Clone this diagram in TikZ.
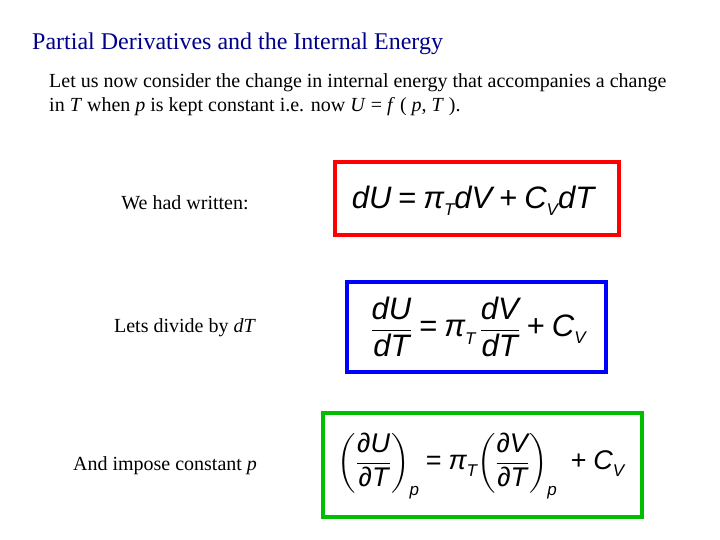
\documentclass[tikz,border=0pt]{standalone}
\usepackage{amsmath}
\usepackage{fontspec}
\setmainfont{Liberation Serif}
\newfontfamily\eqf{Liberation Sans}
\newcommand{\ev}[1]{\text{\eqf\itshape #1}}
\newcommand{\er}[1]{\text{\eqf #1}}
\newcommand{\sbs}[2][-7pt]{\raisebox{#1}{\fontsize{17}{18}\selectfont\eqf\itshape #2}}
\definecolor{titleblue}{RGB}{0,0,140}
\begin{document}
\begin{tikzpicture}[x=1pt,y=-1pt,
  body/.style={font=\fontsize{20}{23}\selectfont,anchor=west,inner sep=0},
  eqbox/.style={line width=4pt,inner sep=0},
  eq/.style={font=\fontsize{31}{36}\selectfont,inner sep=0}]
\useasboundingbox (0,0) rectangle (720,540);
\node[anchor=west,inner sep=0,text=titleblue,font=\fontsize{24}{28}\selectfont] (title) at (32,44) {Partial Derivatives and the Internal Energy};
\node[body] (l1) at (49,83) {Let us now consider the change in internal energy that accompanies a change};
\node[body] (l2) at (49,107) {in \textit{T} when \textit{p} is kept constant i.e. now \textit{U} = \textit{f} ( \textit{p}, \textit{T} ).};
\node[body,anchor=center] (t1) at (185,203) {We had written:};
\node[body,anchor=center] (t2) at (185,328) {Lets divide by \textit{d}\textit{T}};
\node[body,anchor=center] (t3) at (165,466) {And impose constant \textit{p}};
\draw[eqbox,red] (335,162) rectangle (619,235);
\draw[eqbox,blue] (347,282) rectangle (606,372);
\draw[eqbox,green!75!black] (323,413) rectangle (642,517);
\node[eq] (e1) at (473,201) {$\ev{dU}\;\er{=}\;\ev{π}\sbs{T}\ev{dV}\;\er{+}\;\ev{C}\sbs{V}\ev{dT}$};
\node[eq] (e2) at (478,327) {$\dfrac{\ev{dU}}{\ev{dT}}\;\er{=}\;\ev{π}\sbs[-8pt]{T}\,\dfrac{\ev{dV}}{\ev{dT}}\;\er{+}\;\ev{C}\sbs{V}$};
\node[eq,font=\fontsize{27}{32}\selectfont] (e3) at (481,466) {$\left(\dfrac{\er{∂}\ev{U}}{\er{∂}\ev{T}}\right)\!\sbs[-26pt]{p}\;\er{=}\;\ev{π}\sbs{T}\!\left(\dfrac{\er{∂}\ev{V}}{\er{∂}\ev{T}}\right)\!\sbs[-26pt]{p}\;\;\er{+}\;\ev{C}\sbs{V}$};
\end{tikzpicture}
\end{document}
